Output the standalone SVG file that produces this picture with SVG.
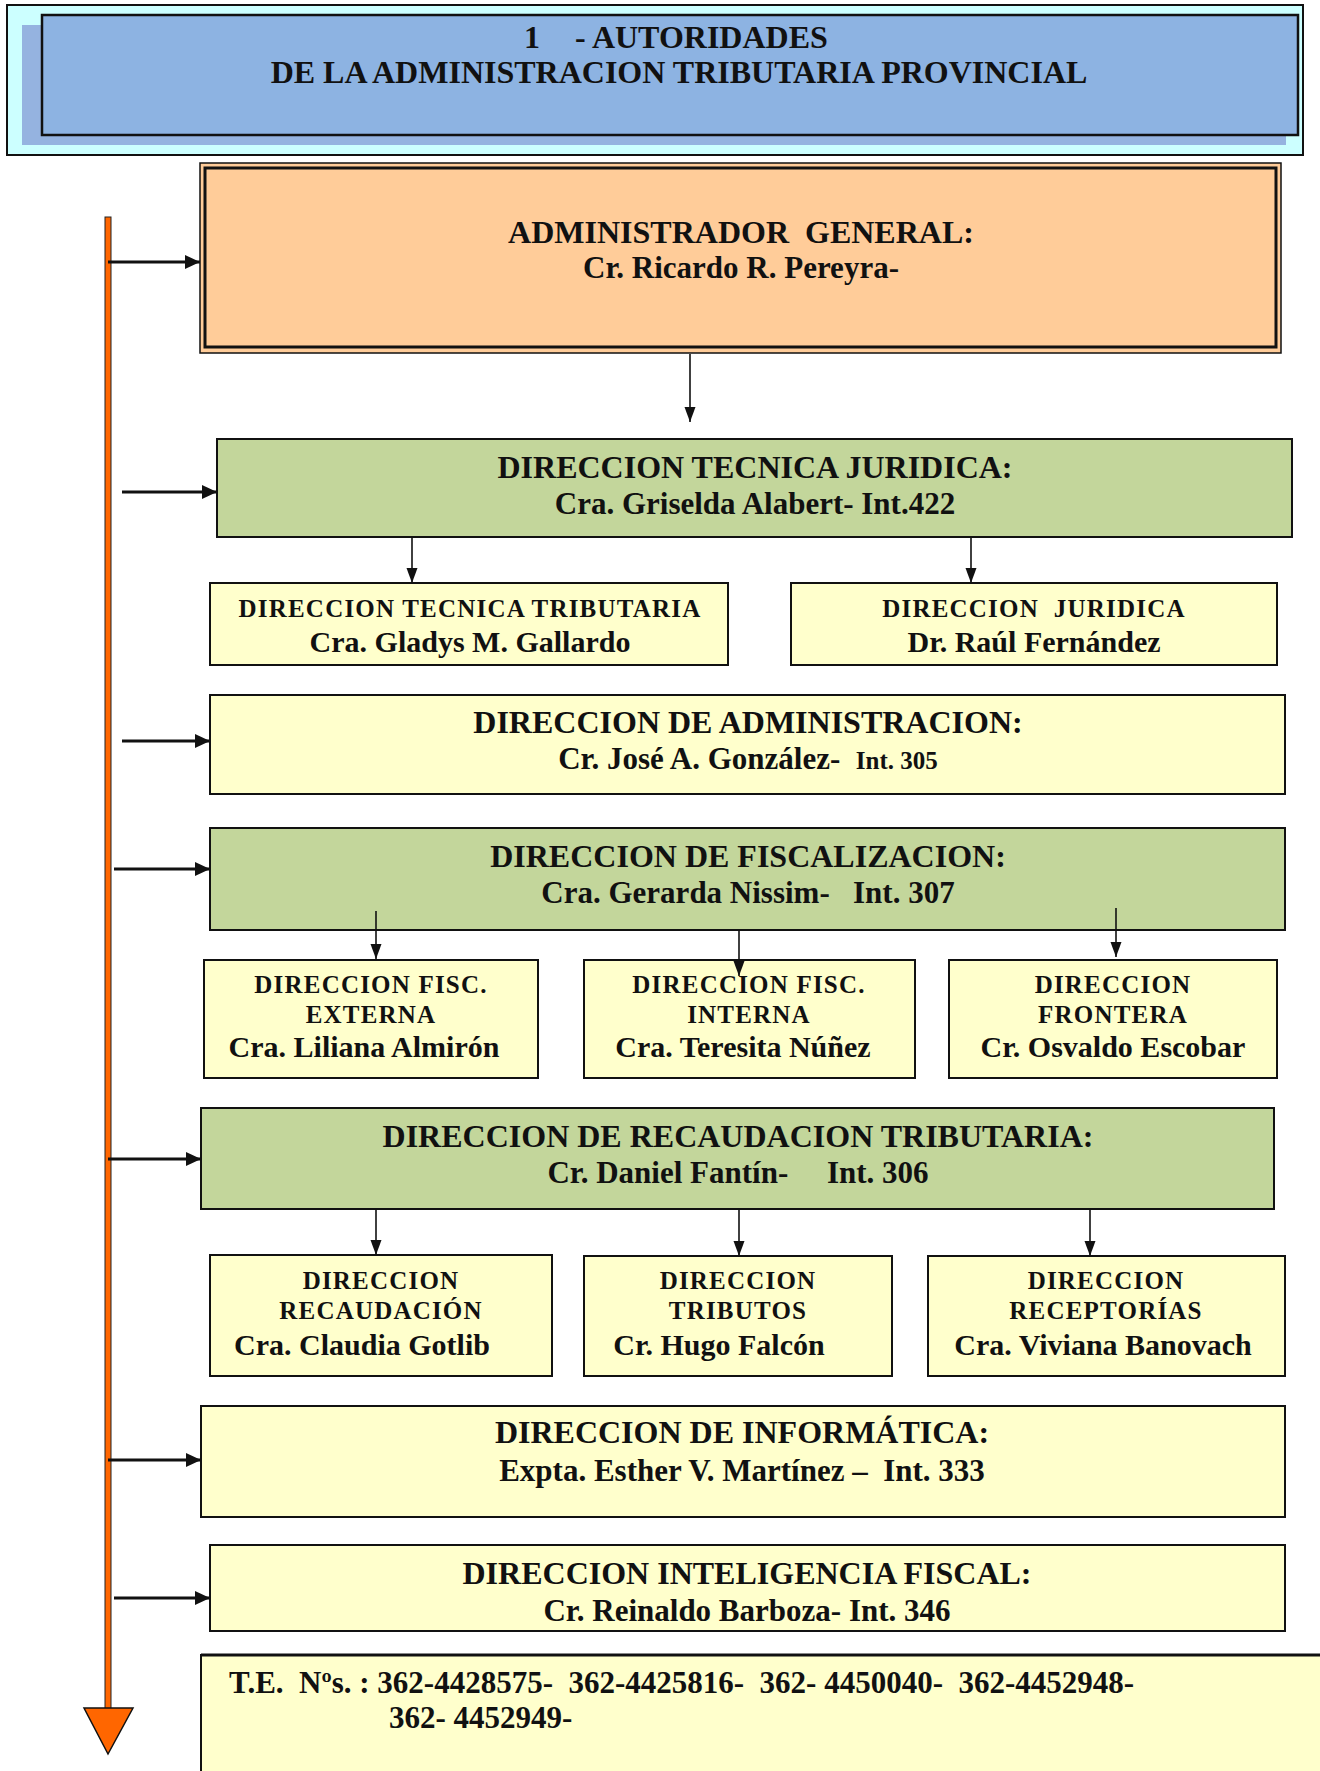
<svg xmlns="http://www.w3.org/2000/svg" width="1320" height="1771" viewBox="0 0 1320 1771">
<style>
text{font-family:"Liberation Serif","Times New Roman",serif;font-weight:bold;fill:#111;}
.h{font-size:32px;text-anchor:middle;}
.n{font-size:31px;text-anchor:middle;}
.sn{font-size:30px;text-anchor:middle;}
.sc{font-size:25px;letter-spacing:1.2px;text-anchor:middle;}
.box{stroke:#111;stroke-width:2;}
.g{fill:#C3D69B;}
.y{fill:#FFFFCC;}
.thick{stroke:#111;stroke-width:3;fill:none;}
.thin{stroke:#111;stroke-width:1.6;fill:none;}
</style>
<defs>
<marker id="ah" markerUnits="userSpaceOnUse" markerWidth="16" markerHeight="16" refX="15" refY="7" orient="auto">
<path d="M0,0 L15,7 L0,14 Z" fill="#111"/>
</marker>
<marker id="ad" markerUnits="userSpaceOnUse" markerWidth="16" markerHeight="12" refX="15" refY="5.5" orient="auto">
<path d="M0,0 L15,5.5 L0,11 Z" fill="#111"/>
</marker>
</defs>
<rect width="1320" height="1771" fill="#fff"/>

<g id="title">
<rect x="7" y="5" width="1296" height="150" fill="#CCFFFF" stroke="#111" stroke-width="2"/>
<rect x="22" y="25" width="1264" height="120" fill="#95B3E0"/>
<rect x="42" y="15" width="1256" height="120" fill="#8DB3E2" stroke="#111" stroke-width="2.5"/>
<text x="524" y="48" font-size="32">1</text>
<text x="575" y="48" font-size="32">- AUTORIDADES</text>
<text x="679" y="83" font-size="32" text-anchor="middle">DE LA ADMINISTRACION TRIBUTARIA PROVINCIAL</text>
</g>

<g id="admin-general">
<rect x="200" y="163" width="1081" height="190" fill="#FFCC99" stroke="#111" stroke-width="1.5"/>
<rect x="205" y="168" width="1071" height="179" fill="#FFCC99" stroke="#111" stroke-width="3"/>
<text class="h" x="741" y="243" xml:space="preserve">ADMINISTRADOR  GENERAL:</text>
<text class="n" x="741" y="278">Cr. Ricardo R. Pereyra-</text>
</g>

<g id="dir-tecnica-juridica">
<rect class="box g" x="217" y="439" width="1075" height="98"/>
<text class="h" x="755" y="478">DIRECCION TECNICA JURIDICA:</text>
<text class="n" x="755" y="514">Cra. Griselda Alabert- Int.422</text>
</g>

<g id="dir-tecnica-tributaria">
<rect class="box y" x="210" y="583" width="518" height="82"/>
<text class="sc" x="470" y="617">DIRECCION TECNICA TRIBUTARIA</text>
<text class="sn" x="470" y="652">Cra. Gladys M. Gallardo</text>
</g>

<g id="dir-juridica">
<rect class="box y" x="791" y="583" width="486" height="82"/>
<text class="sc" x="1034" y="617" xml:space="preserve">DIRECCION  JURIDICA</text>
<text class="sn" x="1034" y="652">Dr. Raúl Fernández</text>
</g>

<g id="dir-administracion">
<rect class="box y" x="210" y="695" width="1075" height="99"/>
<text class="h" x="748" y="733">DIRECCION DE ADMINISTRACION:</text>
<text class="n" x="748" y="769" xml:space="preserve">Cr. José A. González-  <tspan font-size="25">Int. 305</tspan></text>
</g>

<g id="dir-fiscalizacion">
<rect class="box g" x="210" y="828" width="1075" height="102"/>
<text class="h" x="748" y="867">DIRECCION DE FISCALIZACION:</text>
<text class="n" x="748" y="903" xml:space="preserve">Cra. Gerarda Nissim-   Int. 307</text>
</g>

<g id="dir-fisc-externa">
<rect class="box y" x="204" y="960" width="334" height="118"/>
<text class="sc" x="371" y="993">DIRECCION FISC.</text>
<text class="sc" x="371" y="1023">EXTERNA</text>
<text class="sn" x="364" y="1057">Cra. Liliana Almirón</text>
</g>

<g id="dir-fisc-interna">
<rect class="box y" x="584" y="960" width="331" height="118"/>
<text class="sc" x="749" y="993">DIRECCION FISC.</text>
<text class="sc" x="749" y="1023">INTERNA</text>
<text class="sn" x="743" y="1057">Cra. Teresita Núñez</text>
</g>

<g id="dir-frontera">
<rect class="box y" x="949" y="960" width="328" height="118"/>
<text class="sc" x="1113" y="993">DIRECCION</text>
<text class="sc" x="1113" y="1023">FRONTERA</text>
<text class="sn" x="1113" y="1057">Cr. Osvaldo Escobar</text>
</g>

<g id="dir-recaudacion-tributaria">
<rect class="box g" x="201" y="1108" width="1073" height="101"/>
<text class="h" x="738" y="1147">DIRECCION DE RECAUDACION TRIBUTARIA:</text>
<text class="n" x="738" y="1183" xml:space="preserve">Cr. Daniel Fantín-     Int. 306</text>
</g>

<g id="dir-recaudacion">
<rect class="box y" x="210" y="1255" width="342" height="121"/>
<text class="sc" x="381" y="1289">DIRECCION</text>
<text class="sc" x="381" y="1319">RECAUDACIÓN</text>
<text class="sn" x="362" y="1355">Cra. Claudia Gotlib</text>
</g>

<g id="dir-tributos">
<rect class="box y" x="584" y="1256" width="308" height="120"/>
<text class="sc" x="738" y="1289">DIRECCION</text>
<text class="sc" x="738" y="1319">TRIBUTOS</text>
<text class="sn" x="719" y="1355">Cr. Hugo Falcón</text>
</g>

<g id="dir-receptorias">
<rect class="box y" x="928" y="1256" width="357" height="120"/>
<text class="sc" x="1106" y="1289">DIRECCION</text>
<text class="sc" x="1106" y="1319">RECEPTORÍAS</text>
<text class="sn" x="1103" y="1355">Cra. Viviana Banovach</text>
</g>

<g id="dir-informatica">
<rect class="box y" x="201" y="1406" width="1084" height="111"/>
<text class="h" x="742" y="1443">DIRECCION DE INFORMÁTICA:</text>
<text class="n" x="742" y="1481" xml:space="preserve">Expta. Esther V. Martínez –  Int. 333</text>
</g>

<g id="dir-inteligencia">
<rect class="box y" x="210" y="1545" width="1075" height="86"/>
<text class="h" x="747" y="1584">DIRECCION INTELIGENCIA FISCAL:</text>
<text class="n" x="747" y="1621">Cr. Reinaldo Barboza- Int. 346</text>
</g>

<g id="telefonos">
<rect x="201" y="1655" width="1200" height="200" fill="#FFFFCC" stroke="#111" stroke-width="2"/>
<line x1="201" y1="1655" x2="1320" y2="1655" stroke="#111" stroke-width="3"/>
<text x="229" y="1693" font-size="31" xml:space="preserve">T.E.  Nºs. : 362-4428575-  362-4425816-  362- 4450040-  362-4452948-</text>
<text x="389" y="1728" font-size="31">362- 4452949-</text>
</g>

<g id="connectors">
<rect x="105" y="217" width="6" height="1492" fill="#FF6600" stroke="#222" stroke-width="1"/>
<polygon points="84,1708 133,1708 108,1754" fill="#FF6600" stroke="#111" stroke-width="1.5"/>
<path class="thick" d="M108,262 H200" marker-end="url(#ah)"/>
<path class="thick" d="M122,492 H217" marker-end="url(#ah)"/>
<path class="thick" d="M122,741 H210" marker-end="url(#ah)"/>
<path class="thick" d="M114,869 H210" marker-end="url(#ah)"/>
<path class="thick" d="M108,1159 H201" marker-end="url(#ah)"/>
<path class="thick" d="M108,1460 H201" marker-end="url(#ah)"/>
<path class="thick" d="M114,1598 H210" marker-end="url(#ah)"/>
<path class="thin" d="M690,354 V422" marker-end="url(#ad)"/>
<path class="thin" d="M412,537 V583" marker-end="url(#ad)"/>
<path class="thin" d="M971,537 V583" marker-end="url(#ad)"/>
<path class="thin" d="M376,911 V959" marker-end="url(#ad)"/>
<path class="thin" d="M739,930 V976" marker-end="url(#ad)"/>
<path class="thin" d="M1116,908 V957" marker-end="url(#ad)"/>
<path class="thin" d="M376,1209 V1255" marker-end="url(#ad)"/>
<path class="thin" d="M739,1209 V1256" marker-end="url(#ad)"/>
<path class="thin" d="M1090,1209 V1256" marker-end="url(#ad)"/>
</g>
</svg>
